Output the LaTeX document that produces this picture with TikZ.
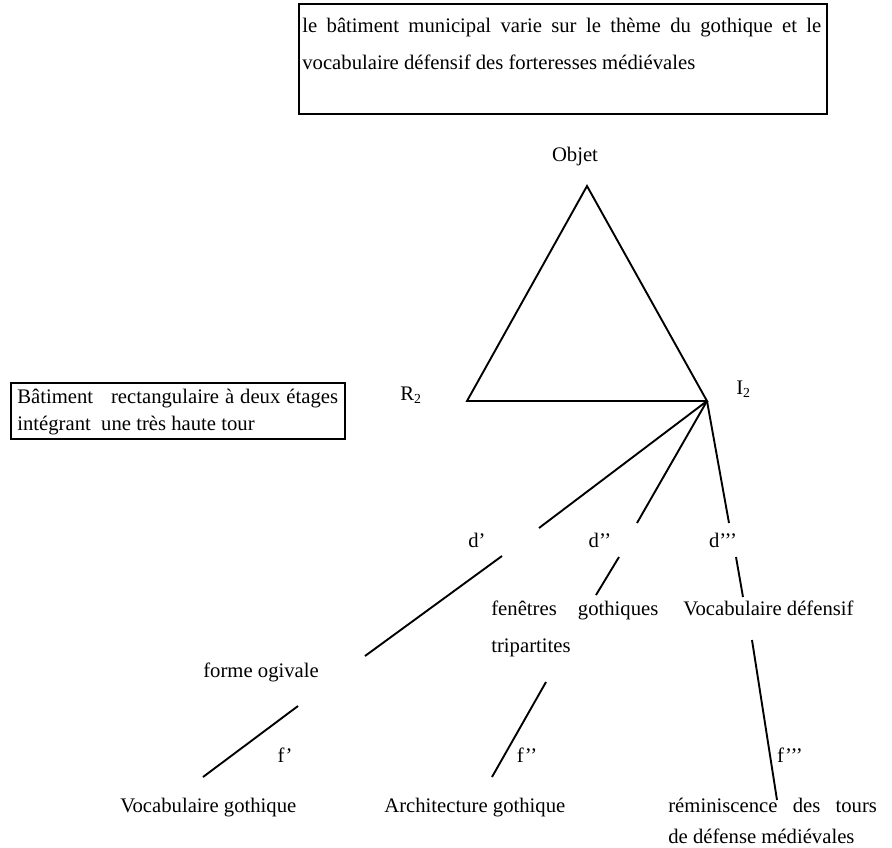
\documentclass[tikz,border=0pt]{standalone}
\usepackage{fontspec}
\setmainfont{Liberation Serif}
\begin{document}
\begin{tikzpicture}[x=0.58pt,y=-0.58pt,
  every node/.style={inner sep=0pt, font=\fontsize{12}{14}\selectfont},
  lbl/.style={anchor=base west},
  clbl/.style={anchor=base},
  boxnode/.style={draw, line width=1.1pt, anchor=north west},
  conn/.style={line width=1.1pt}]
\useasboundingbox (0,0) rectangle (892,847);

% top box
\node[boxnode, minimum width=306.2pt, minimum height=63.8pt] (topbox) at (298,3) {};
\node[lbl] (t1) at (302,32) {\makebox[301pt][s]{le bâtiment municipal varie sur le thème du gothique et le}};
\node[lbl] (t2) at (302,69) {vocabulaire défensif des forteresses médiévales};

% left box
\node[boxnode, minimum width=193.7pt, minimum height=32.5pt] (lbox) at (10,382) {};
\node[lbl] (l1) at (17,403) {\makebox[186pt][s]{Bâtiment\ \ \ rectangulaire à deux étages}};
\node[lbl] (l2) at (17,430) {intégrant\ \ une très haute tour};

% triangle
\node[clbl] (objet) at (575,161) {Objet};
\coordinate (apex) at (587,186);
\coordinate (R) at (467,401);
\coordinate (I) at (707,401);
\draw[conn] (apex) -- (R) -- (I) -- cycle;
\node[lbl] (r2) at (400,400) {R\textsubscript{2}};
\node[lbl] (i2) at (736,394) {I\textsubscript{2}};

% d labels
\node[clbl] (d1) at (477,547) {d’};
\node[clbl] (d2) at (600,547) {d’’};
\node[clbl] (d3) at (723,547) {d’’’};

% middle texts
\node[lbl] (fen) at (491,615) {\makebox[96.9pt][s]{fenêtres\ \ \ gothiques}};
\node[lbl] (tri) at (491,652) {tripartites};
\node[lbl] (vdef) at (683,615) {Vocabulaire défensif};
\node[lbl] (forme) at (203,677) {forme ogivale};

% f labels
\node[clbl] (f1) at (285,762) {f’};
\node[clbl] (f2) at (527,762) {f’’};
\node[clbl] (f3) at (790,762) {f’’’};

% bottom texts
\node[lbl] (vgot) at (120,812) {Vocabulaire gothique};
\node[lbl] (agot) at (384,812) {Architecture gothique};
\node[lbl] (rem1) at (668,812) {\makebox[121pt][s]{réminiscence\ \ des\ \ tours}};
\node[lbl] (rem2) at (668,843) {de défense médiévales};

% connector end points
\coordinate (a1) at (539,528);
\coordinate (a2) at (502,556);
\coordinate (a3) at (365,656);
\coordinate (b1) at (637,523);
\coordinate (b2) at (619,557);
\coordinate (b3) at (596,595);
\coordinate (c1) at (729,523);
\coordinate (c2) at (736,557);
\coordinate (c3) at (743,597);
\coordinate (e1) at (298,706);
\coordinate (e2) at (203,777);
\coordinate (g1) at (546,682);
\coordinate (g2) at (492,777);
\coordinate (h1) at (752,640);
\coordinate (h2) at (777,800);

\draw[conn] (I) -- (a1);
\draw[conn] (a2) -- (a3);
\draw[conn] (I) -- (b1);
\draw[conn] (b2) -- (b3);
\draw[conn] (I) -- (c1);
\draw[conn] (c2) -- (c3);
\draw[conn] (e1) -- (e2);
\draw[conn] (g1) -- (g2);
\draw[conn] (h1) -- (h2);
\end{tikzpicture}
\end{document}
